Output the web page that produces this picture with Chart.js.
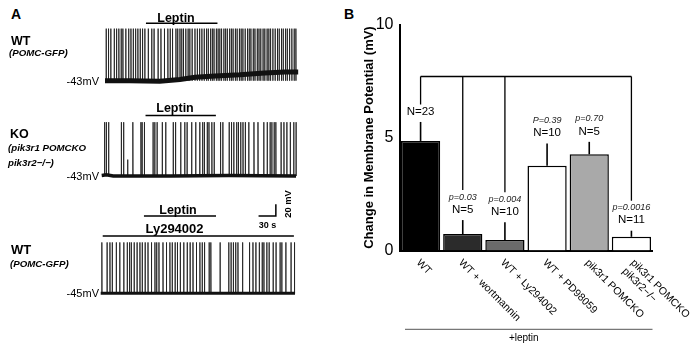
<!DOCTYPE html>
<html>
<head>
<meta charset="utf-8">
<script src="https://cdn.jsdelivr.net/npm/chart.js@4.4.0/dist/chart.umd.min.js"></script>
<style>
  html, body { margin: 0; padding: 0; background: #fff; }
  #fig { position: relative; width: 700px; height: 349px; overflow: hidden;
         font-family: "Liberation Sans", Arial, sans-serif; color: #000; }
  #fig canvas { position: absolute; }
  .t { position: absolute; white-space: nowrap; line-height: 1; }
  .l { transform: translate(0, -50%); }
  .c { transform: translate(-50%, -50%); }
  .r { transform: translate(-100%, -50%); }
  .rot { transform: translate(-50%, -50%) rotate(-90deg); }
  .b { font-weight: bold; }
  .bi { font-weight: bold; font-style: italic; }
</style>
</head>
<body>
<div id="fig">
  <canvas id="traceWT"></canvas>
  <canvas id="traceKO"></canvas>
  <canvas id="traceLY"></canvas>
  <canvas id="barChart" width="340" height="349" style="left:360px;top:0"></canvas>

  <div class="t l b" style="left:11px;top:14.3px;font-size:14px">A</div>
  <div class="t c b" style="left:176px;top:17.5px;font-size:12.5px">Leptin</div>
  <div class="t l b" style="left:11px;top:40.5px;font-size:12.5px">WT</div>
  <div class="t l bi" style="left:9px;top:53px;font-size:9.7px">(POMC-GFP)</div>
  <div class="t r" style="left:99px;top:80.7px;font-size:11px">-43mV</div>

  <div class="t c b" style="left:175px;top:108px;font-size:12.5px">Leptin</div>
  <div class="t l b" style="left:10px;top:134px;font-size:12.5px">KO</div>
  <div class="t l bi" style="left:8px;top:148.3px;font-size:9.7px">(pik3r1 POMCKO</div>
  <div class="t l bi" style="left:8px;top:163px;font-size:9.7px">pik3r2−/−)</div>
  <div class="t r" style="left:99px;top:176px;font-size:11px">-43mV</div>

  <div class="t c b" style="left:178px;top:209.5px;font-size:12.5px">Leptin</div>
  <div class="t c b" style="left:174.5px;top:228.3px;font-size:13px">Ly294002</div>
  <div class="t c b" style="left:267.5px;top:225px;font-size:9px">30 s</div>
  <div class="t b rot" style="left:288.5px;top:203.5px;font-size:9.3px">20 mV</div>
  <div class="t l b" style="left:11px;top:249.3px;font-size:13px">WT</div>
  <div class="t l bi" style="left:10px;top:264px;font-size:9.7px">(POMC-GFP)</div>
  <div class="t r" style="left:99px;top:293.3px;font-size:11px">-45mV</div>

  <div class="t c b" style="left:349px;top:14px;font-size:14px">B</div>
</div>

<script>
// ---------- recording scale (taken from the 30 s / 20 mV scale bar) ----------
const SEC_PER_PX = 30 / 17.3;
const MV_PER_PX = 20 / 11.7;
const FONT = '"Liberation Sans", Arial, sans-serif';
Chart.defaults.font.family = FONT;

// ---------- panel A: spike times (s) ----------
const wtSpikes = [2, 6, 10, 16, 20, 24, 28, 31, 36, 41, 45, 49, 53, 57, 61, 65, 69, 75, 81, 85,
  92, 97, 103, 109, 113, 117, 123, 126, 130, 133, 136, 140, 144, 147, 151, 156, 160,
  164, 168, 172, 176, 179, 183, 186, 189, 193, 196, 199, 202, 206, 209, 212, 216, 219, 222,
  226, 229, 233, 236, 239, 243, 247, 250, 253, 257, 260, 264, 267, 270, 274, 277, 281, 284,
  287, 291, 295, 299, 302, 306, 309, 313, 316, 320, 324, 328, 331];
// [time, peak] marks a spike that did not reach full height
const koSpikes = [5, 8, 12, 34, 38, [45, -15], 54, 68, 70, 74, 89, 92, 96, 105, 111, 124, 128,
  137, 144, 148, 156, 163, 170, 175, 178, 183, 186, 191, 195, 206, 210, 221, 225, 229, 234,
  237, 241, 245, 249, 255, 264, 271, 281, 287, 292, 295, 299, 302, 311, 316, 321, 327, 333, 337];
const lySpikes = [2, 11, 16, 20, 27, 33, 40, 46, 50, 53, 58, 63, 68, 72, 77, 82, 88, 94, 97,
  101, 108, 114, 120, 124, 129, 133, 138, 144, 150, 155, 160, 166, 172, 176, 180, 188, 191,
  207, 222, 226, 230, 234, 238, 246, 258, 264, 269, 275, 280, 283, 288, 292, 299, 304, 311,
  314, 321, 330, 336];

// spike peak potential (mV)
const wtPeak = 46;
const koPeak = 49;
const lyPeak = 42;

// resting membrane potential, [s] and [mV]
const wtBaseT = [0, 43, 95, 130, 156, 191, 234, 277, 312, 335];
const wtBaseMV = [-43, -43, -44, -41, -37, -35, -33, -30, -28, -28];
const koBaseT = [0, 8, 20, 120, 220, 337];
const koBaseMV = [-42, -41, -43, -43, -42, -43];
const lyBaseT = [0, 337];
const lyBaseMV = [-45, -45];

// drug application windows (s)
const leptinWT = [71, 195];
const leptinKO = [76, 198];
const leptinLY = [75, 200];
const lyWindow = [3.5, 335];

// scale bar: 30 s horizontal, 20 mV vertical
const scaleBarT = [272, 302, 302];
const scaleBarMV = [-111.4, -111.4, -91.4];

// ---------- panel B: leptin-induced depolarization ----------
const groups = ['WT', 'WT + wortmannin', 'WT + Ly294002', 'WT + PD98059', 'pik3r1 POMCKO',
  ['pik3r1 POMCKO', 'pik3r2−/−']];
const meanChange = [4.85, 0.73, 0.47, 3.75, 4.26, 0.61];
const semChange = [0.84, 0.62, 0.78, 0.99, 0.55, 0.27];
const nLabels = ['N=23', 'N=5', 'N=10', 'N=10', 'N=5', 'N=11'];
const pLabels = ['', 'p=0.03', 'p=0.004', 'P=0.39', 'p=0.70', 'p=0.0016'];
const yTicks = [0, 5, 10];
const bracketLevel = 7.7;
const bracketGroups = [0, 1, 2, 5];

// ---------- trace charts ----------
const drugBars = {
  id: 'drugBars',
  afterDraw(chart) {
    const { ctx, scales: { x } } = chart;
    const top = chart.options.plugins.drugBars.top;
    ctx.save();
    ctx.strokeStyle = '#000';
    ctx.lineWidth = 1.6;
    chart.options.plugins.drugBars.bars.forEach(b => {
      ctx.beginPath();
      ctx.moveTo(x.getPixelForValue(b.span[0]), b.y - top);
      ctx.lineTo(x.getPixelForValue(b.span[1]), b.y - top);
      ctx.stroke();
    });
    ctx.restore();
  }
};

function traceChart(id, t) {
  const cv = document.getElementById(id);
  cv.width = t.width;
  cv.height = t.height;
  cv.style.left = t.left + 'px';
  cv.style.top = t.top + 'px';

  const xMin = (t.left - t.x0) * SEC_PER_PX;
  const xMax = xMin + t.width * SEC_PER_PX;
  const yMax = t.refMV + (t.refY - t.top) * MV_PER_PX;
  const yMin = yMax - t.height * MV_PER_PX;

  const spikePts = [];
  t.spikes.forEach(s => {
    const [ts, peak] = Array.isArray(s) ? s : [s, t.peak];
    spikePts.push({ x: ts, y: t.floor }, { x: ts, y: peak }, { x: ts + 0.3, y: t.floor }, { x: ts + 0.3, y: null });
  });
  const basePts = t.baseT.map((v, i) => ({ x: v, y: t.baseMV[i] }));

  const datasets = [
    { data: basePts, borderColor: '#111', borderWidth: t.baseWidth, pointRadius: 0 },
    { data: spikePts, borderColor: 'rgba(30,30,30,0.85)', borderWidth: 1, pointRadius: 0, spanGaps: false }
  ];
  if (t.scaleBar) {
    datasets.push({
      data: scaleBarT.map((v, i) => ({ x: v, y: scaleBarMV[i] })),
      borderColor: '#000', borderWidth: 1.5, pointRadius: 0
    });
  }

  return new Chart(cv, {
    type: 'line',
    data: { datasets },
    options: {
      responsive: false,
      animation: false,
      events: [],
      parsing: false,
      layout: { padding: 0 },
      plugins: {
        legend: { display: false },
        tooltip: { enabled: false },
        drugBars: { top: t.top, bars: t.bars }
      },
      scales: {
        x: { type: 'linear', display: false, min: xMin, max: xMax },
        y: { type: 'linear', display: false, min: yMin, max: yMax }
      }
    },
    plugins: [drugBars]
  });
}

traceChart('traceWT', {
  left: 102, top: 20, width: 200, height: 72, x0: 105, refY: 80.7, refMV: -43,
  spikes: wtSpikes, peak: wtPeak, floor: -43, baseT: wtBaseT, baseMV: wtBaseMV, baseWidth: 5,
  bars: [{ span: leptinWT, y: 23.3 }]
});
traceChart('traceKO', {
  left: 98, top: 112, width: 204, height: 110, x0: 101.7, refY: 176, refMV: -43,
  spikes: koSpikes, peak: koPeak, floor: -43, baseT: koBaseT, baseMV: koBaseMV, baseWidth: 3.5,
  bars: [{ span: leptinKO, y: 115.5 }], scaleBar: true
});
traceChart('traceLY', {
  left: 97, top: 212, width: 204, height: 90, x0: 100.7, refY: 293.3, refMV: -45,
  spikes: lySpikes, peak: lyPeak, floor: -45, baseT: lyBaseT, baseMV: lyBaseMV, baseWidth: 3,
  bars: [{ span: leptinLY, y: 216 }, { span: lyWindow, y: 236 }]
});

// ---------- bar chart ----------
const annotate = {
  id: 'annotate',
  afterDatasetsDraw(chart) {
    const { ctx, scales: { x, y } } = chart;
    ctx.save();
    ctx.strokeStyle = '#000';
    ctx.fillStyle = '#000';
    ctx.textAlign = 'center';
    ctx.textBaseline = 'middle';

    // error bars, N and p values
    const labelTop = [];
    meanChange.forEach((m, i) => {
      const cx = x.getPixelForValue(i);
      const yBar = y.getPixelForValue(m);
      const yErr = y.getPixelForValue(m + semChange[i]);
      ctx.lineWidth = 1.6;
      ctx.beginPath();
      ctx.moveTo(cx, yBar);
      ctx.lineTo(cx, yErr);
      ctx.stroke();

      const yN = yErr - 10.5;
      ctx.font = '11.5px ' + FONT;
      ctx.fillStyle = '#000';
      ctx.fillText(nLabels[i], cx, yN);
      let top = yN;
      if (pLabels[i]) {
        const yP = yN - 12.5;
        ctx.font = 'italic 9px ' + FONT;
        ctx.fillStyle = '#222';
        ctx.fillText(pLabels[i], cx, yP);
        top = yP;
      }
      labelTop.push(top);
    });

    // comparison bracket
    const yb = y.getPixelForValue(bracketLevel);
    ctx.lineWidth = 1.3;
    ctx.beginPath();
    ctx.moveTo(x.getPixelForValue(bracketGroups[0]), yb);
    ctx.lineTo(x.getPixelForValue(bracketGroups[bracketGroups.length - 1]), yb);
    bracketGroups.forEach(i => {
      const cx = x.getPixelForValue(i);
      ctx.moveTo(cx, yb);
      ctx.lineTo(cx, labelTop[i] - 7);
    });
    ctx.stroke();

    // slanted group names
    ctx.fillStyle = '#000';
    ctx.font = '10.5px ' + FONT;
    ctx.textAlign = 'left';
    groups.forEach((g, i) => {
      const lines = Array.isArray(g) ? g : [g];
      const cx = x.getPixelForValue(i);
      lines.forEach((line, k) => {
        const ax = cx - 2.5 + 3.5 * (lines.length - 1) - 8.5 * k;
        const ay = y.bottom + 10.5 + 8.5 * k;
        ctx.save();
        ctx.translate(ax, ay);
        ctx.rotate(Math.PI / 4);
        ctx.fillText(line, 0, 0);
        ctx.restore();
      });
    });

    // +leptin underline
    const yl = y.bottom + 78.7;
    ctx.strokeStyle = '#555';
    ctx.lineWidth = 1;
    ctx.beginPath();
    ctx.moveTo(x.left + 5.5, yl);
    ctx.lineTo(x.right, yl);
    ctx.stroke();
    ctx.textAlign = 'center';
    ctx.font = '10px ' + FONT;
    ctx.fillText('+leptin', (x.left + 5.5 + x.right) / 2 - 5, yl + 8.7);
    ctx.restore();
  }
};

new Chart(document.getElementById('barChart'), {
  type: 'bar',
  data: {
    labels: groups,
    datasets: [{
      data: meanChange,
      backgroundColor: ['#000000', '#2b2b2b', '#6b6b6b', '#ffffff', '#a9a9a9', '#ffffff'],
      borderColor: '#000',
      borderWidth: 1.5,
      barPercentage: 0.93,
      categoryPercentage: 1
    }]
  },
  options: {
    responsive: false,
    animation: false,
    events: [],
    layout: { padding: { top: 24.5, right: 47.5, bottom: 98.4, left: 0 } },
    plugins: { legend: { display: false }, tooltip: { enabled: false } },
    scales: {
      x: {
        grid: { display: false, drawTicks: false },
        border: { display: true, color: '#000', width: 2 },
        ticks: { display: false },
        afterFit: s => { s.height = 0; }
      },
      y: {
        min: 0,
        max: 10,
        afterBuildTicks: s => { s.ticks = yTicks.map(v => ({ value: v })); },
        ticks: { color: '#000', font: { size: 16 }, padding: 6 },
        grid: { display: false, drawTicks: false },
        border: { display: true, color: '#000', width: 2 },
        title: {
          display: true,
          text: 'Change in Membrane Potential (mV)',
          color: '#000',
          font: { size: 13, weight: 'bold' },
          padding: { top: 2, bottom: 0 }
        },
        afterFit: s => { s.width = 39.5; }
      }
    }
  },
  plugins: [annotate]
});
</script>
</body>
</html>
